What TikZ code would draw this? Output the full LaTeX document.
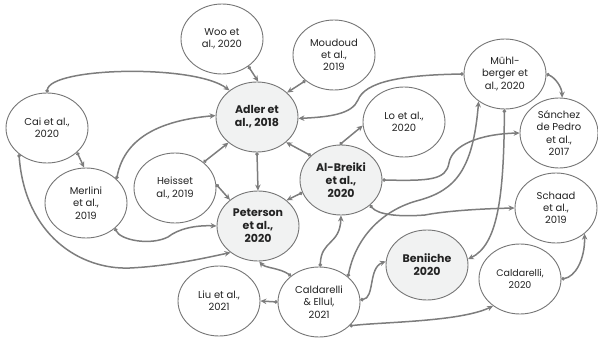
\documentclass[tikz,border=0pt]{standalone}
\usepackage{fontspec}
\setmainfont{Poppins}
\usetikzlibrary{shapes.geometric,arrows.meta}
\definecolor{edgegray}{RGB}{125,125,125}
\definecolor{bordergray}{RGB}{118,118,118}
\definecolor{fillgray}{RGB}{241,242,242}
\definecolor{textgray}{RGB}{35,35,35}
\begin{document}
\begin{tikzpicture}[x=1pt,y=-1pt,
  paper/.style={ellipse, draw=bordergray, line width=0.9pt, fill=white,
    minimum width=82pt, minimum height=70pt, inner sep=0pt, align=center,
    text=textgray, font=\fontsize{10}{12.3}\selectfont},
  keypaper/.style={paper, fill=fillgray, font=\bfseries\fontsize{11}{13}\selectfont},
  link/.style={draw=edgegray, line width=1.5pt,
    {Circle[length=3.4pt]}-{Stealth[length=6pt,width=5.5pt]}},
]
\useasboundingbox (0,0) rectangle (598,342);

\node[paper]    (woo)      at (222,39)  {Woo et\\al., 2020};
\node[paper]    (moud)     at (334,55)  {Moudoud\\et al.,\\2019};
\node[keypaper] (adler)    at (257,117) {Adler et\\al., 2018};
\node[paper]    (cai)      at (47,128)  {Cai et al.,\\2020};
\node[paper]    (merlini)  at (86,203)  {Merlini\\et al.,\\2019};
\node[paper]    (heisset)  at (175,188) {Heisset\\al., 2019};
\node[keypaper] (peterson) at (258,226) {Peterson\\et al.,\\2020};
\node[keypaper] (albreiki) at (341,180) {Al-Breiki\\et al.,\\2020};
\node[paper]    (lo)       at (404,122) {Lo et al.,\\2020};
\node[paper]    (muhl)     at (505,74)  {Mühl-\\berger et\\al., 2020};
\node[paper, minimum width=78pt] (sanchez) at (559,133) {Sánchez\\de Pedro\\et al.,\\2017};
\node[paper]    (schaad)   at (556,208) {Schaad\\et al.,\\2019};
\node[keypaper] (beniiche) at (427,265) {Beniiche\\2020};
\node[paper, font=\fontsize{9.5}{12.3}\selectfont] (cald) at (520,279) {Caldarelli,\\2020};
\node[paper]    (ce)       at (319,302) {Caldarelli\\\& Ellul,\\2021};
\node[paper]    (liu)      at (219,301) {Liu et al.,\\2021};

\draw[link] (woo.-46) -- (adler.88);
\draw[link] (moud.222) -- (adler.39);
\draw[link] (cai.90) .. controls (50,67) and (195,64) .. (adler.136);
\draw[link] (cai.-39) -- (merlini.93);
\draw[link] (cai.223) .. controls (25,235) and (80,270) .. (130,268)
  .. controls (170,266) and (205,258) .. (peterson.224);
\draw[link] (merlini.38) .. controls (125,135) and (165,120) .. (adler.178);
\draw[link] (merlini.-41) .. controls (120,240) and (150,246) .. (168,237)
  .. controls (178,229) and (195,225) .. (peterson.180);
\draw[link] (heisset.42) -- (adler.222);
\draw[link] (heisset.5) -- (peterson.137);
\draw[link] (adler.south) -- (peterson.north);
\draw[link] (albreiki.141) -- (adler.-41);
\draw[link] (albreiki.198) -- (peterson.42);
\draw[link] (albreiki.92) -- (lo.185);
\draw[link] (muhl.west) .. controls (400,75) and (365,82) .. (358,100)
  .. controls (352,114) and (330,117) .. (adler.-2);
\draw[link] (albreiki.east) .. controls (430,181) and (446,180) .. (449,163)
  .. controls (452,145) and (480,134) .. (sanchez.west);
\draw[link] (albreiki.-41) .. controls (378,215) and (400,217) .. (425,215)
  .. controls (440,212) and (470,209) .. (schaad.west);
\draw[link] (muhl.east) .. controls (556,78) and (562,88) .. (sanchez.85);
\draw[link] (muhl.-91) .. controls (504,200) and (497,245) .. (beniiche.8);
\draw[link] (ce.41) .. controls (355,240) and (380,210) .. (420,200)
  .. controls (455,190) and (473,170) .. (muhl.226);
\draw[link] (ce.88) .. controls (321,240) and (340,245) .. (albreiki.south);
\draw[link] (ce.137) .. controls (280,268) and (265,268) .. (peterson.-88);
\draw[link] (ce.west) -- (liu.east);
\draw[link] (ce.3) .. controls (375,298) and (368,268) .. (beniiche.175);
\draw[link] (ce.-38) .. controls (380,322) and (460,322) .. (cald.225);
\draw[link] (cald.east) .. controls (575,277) and (585,260) .. (schaad.-42);
\end{tikzpicture}
\end{document}
